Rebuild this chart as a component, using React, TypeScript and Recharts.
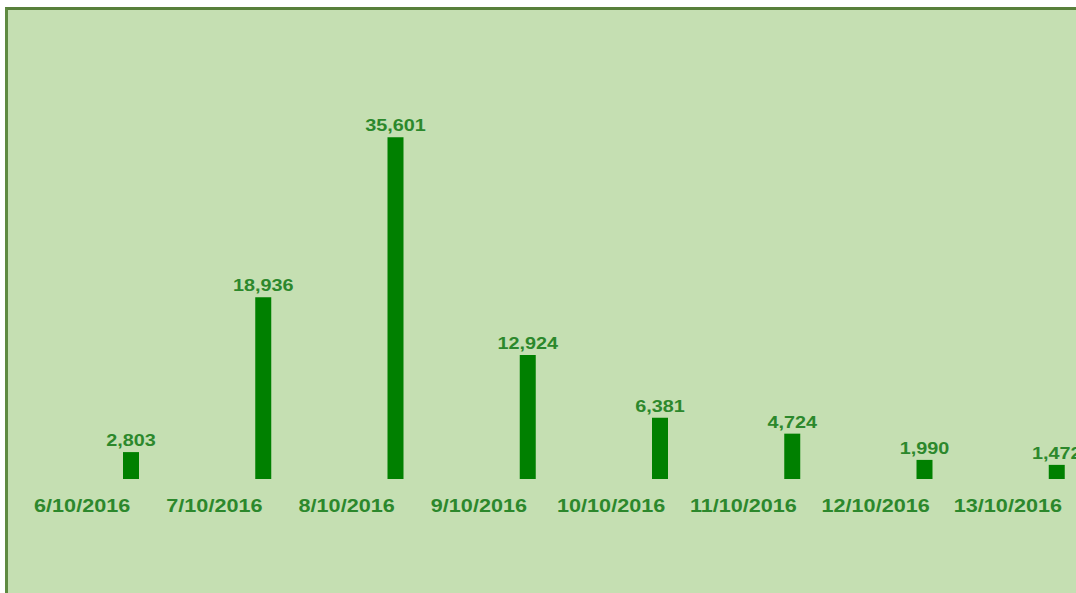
import React from "react";
import { Bar, BarChart, LabelList, XAxis, YAxis } from "recharts";

const dates = [
  "6/10/2016",
  "7/10/2016",
  "8/10/2016",
  "9/10/2016",
  "10/10/2016",
  "11/10/2016",
  "12/10/2016",
  "13/10/2016",
];

const used = [2803, 18936, 35601, 12924, 6381, 4724, 1990, 1472];

const data = dates.map((date, i) => ({ date, used: used[i] }));

const textGreen = "#2c882c";
const font = "Arial, 'Liberation Sans', sans-serif";

// the source image is stretched sideways, so the text is too
const stretch = 1.2;

function DateTick(props: any) {
  const { x, y, payload } = props;
  return (
    <text
      transform={`translate(${x - 49},${y + 25}) scale(${stretch},1)`}
      textAnchor="middle"
      fill={textGreen}
      fontSize={18}
      fontWeight={700}
      fontFamily={font}
    >
      {payload.value}
    </text>
  );
}

function ValueLabel(props: any) {
  const { x, y, width, value } = props;
  return (
    <text
      transform={`translate(${x + width / 2},${y - 6}) scale(${stretch},1)`}
      textAnchor="middle"
      fill={textGreen}
      fontSize={16.5}
      fontWeight={700}
      fontFamily={font}
    >
      {Number(value).toLocaleString("en-US")}
    </text>
  );
}

export default function App() {
  return (
    <div
      style={{
        position: "absolute",
        left: 0,
        top: 0,
        width: 1076,
        height: 593,
        background: "#ffffff",
        overflow: "hidden",
      }}
    >
      <div
        style={{
          position: "absolute",
          left: 5,
          top: 7,
          width: 1071,
          height: 586,
          background: "#c5dfb2",
          borderTop: "3px solid #58803b",
          borderLeft: "3px solid #5f8a42",
          boxSizing: "border-box",
        }}
      />
      <div style={{ position: "absolute", left: 0, top: 0 }}>
        <BarChart
          width={1130}
          height={593}
          data={data}
          margin={{ top: 95, right: 7, bottom: 84, left: 65 }}
        >
          <XAxis
            dataKey="date"
            axisLine={false}
            tickLine={false}
            interval={0}
            height={30}
            tick={<DateTick />}
          />
          <YAxis hide domain={[0, 40000]} />
          <Bar dataKey="used" fill="#008000" barSize={16} isAnimationActive={false}>
            <LabelList dataKey="used" content={<ValueLabel />} />
          </Bar>
        </BarChart>
      </div>
    </div>
  );
}
